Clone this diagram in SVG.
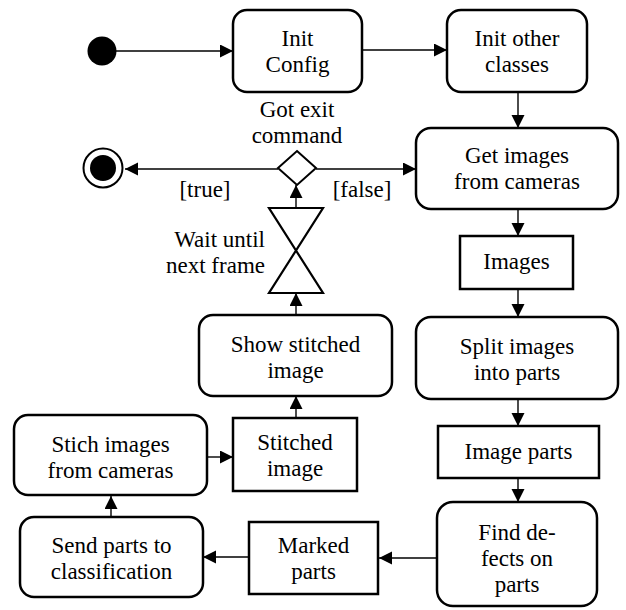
<svg xmlns="http://www.w3.org/2000/svg" width="626" height="610" viewBox="0 0 626 610">
<defs>
<marker id="arr" markerUnits="userSpaceOnUse" markerWidth="14" markerHeight="14" refX="13" refY="6.5" orient="auto">
<path d="M0,0 L13,6.5 L0,13 z" fill="#000"/>
</marker>
</defs>
<rect width="626" height="610" fill="#fff"/>
<g id="connectors" stroke="#000" stroke-width="1.4" fill="none" marker-end="url(#arr)">
<line x1="116" y1="51" x2="233" y2="51"/>
<line x1="362" y1="50" x2="447" y2="50"/>
<line x1="518" y1="92" x2="518" y2="128"/>
<line x1="518" y1="209" x2="518" y2="236"/>
<line x1="518" y1="289" x2="518" y2="317"/>
<line x1="518" y1="399" x2="518" y2="426"/>
<line x1="518" y1="478" x2="518" y2="502"/>
<line x1="437" y1="558" x2="379" y2="558"/>
<line x1="249" y1="557" x2="203" y2="557"/>
<line x1="111" y1="517" x2="111" y2="496"/>
<line x1="207" y1="457" x2="233" y2="457"/>
<line x1="296" y1="418" x2="296" y2="396"/>
<line x1="296" y1="315" x2="296" y2="293"/>
<line x1="296" y1="208" x2="296" y2="185"/>
<line x1="278" y1="169" x2="125" y2="169"/>
<line x1="316" y1="169" x2="416" y2="169"/>
</g>
<g id="start"><circle cx="102" cy="51" r="14.5" fill="#000"/></g>
<g id="initConfig" font-family="Liberation Serif" font-size="23" text-anchor="middle">
<rect x="233" y="10" width="129" height="82" rx="14" fill="#fff" stroke="#000" stroke-width="2.5"/>
<text x="297.5" y="46">Init</text>
<text x="297.5" y="72">Config</text>
</g>
<g id="initOther" font-family="Liberation Serif" font-size="23" text-anchor="middle">
<rect x="447" y="10" width="140" height="82" rx="14" fill="#fff" stroke="#000" stroke-width="2.5"/>
<text x="517" y="46">Init other</text>
<text x="517" y="72">classes</text>
</g>
<g id="getImages" font-family="Liberation Serif" font-size="23" text-anchor="middle">
<rect x="416" y="128" width="202" height="81" rx="15" fill="#fff" stroke="#000" stroke-width="2.5"/>
<text x="517" y="163">Get images</text>
<text x="517" y="189">from cameras</text>
</g>
<g id="images" font-family="Liberation Serif" font-size="23" text-anchor="middle">
<rect x="460" y="236" width="113" height="53" fill="#fff" stroke="#000" stroke-width="2.5"/>
<text x="516.5" y="269">Images</text>
</g>
<g id="split" font-family="Liberation Serif" font-size="23" text-anchor="middle">
<rect x="416" y="317" width="202" height="82" rx="15" fill="#fff" stroke="#000" stroke-width="2.5"/>
<text x="517" y="354">Split images</text>
<text x="517" y="380">into parts</text>
</g>
<g id="imageParts" font-family="Liberation Serif" font-size="23" text-anchor="middle">
<rect x="438" y="426" width="161" height="52" fill="#fff" stroke="#000" stroke-width="2.5"/>
<text x="518.5" y="459">Image parts</text>
</g>
<g id="findDefects" font-family="Liberation Serif" font-size="23" text-anchor="middle">
<rect x="437" y="502" width="160" height="104" rx="16" fill="#fff" stroke="#000" stroke-width="2.5"/>
<text x="517" y="540">Find de-</text>
<text x="517" y="566">fects on</text>
<text x="517" y="592">parts</text>
</g>
<g id="markedParts" font-family="Liberation Serif" font-size="23" text-anchor="middle">
<rect x="249" y="522" width="129" height="72" fill="#fff" stroke="#000" stroke-width="2.5"/>
<text x="313.5" y="553">Marked</text>
<text x="313.5" y="579">parts</text>
</g>
<g id="sendParts" font-family="Liberation Serif" font-size="23" text-anchor="middle">
<rect x="20" y="517" width="183" height="80" rx="14" fill="#fff" stroke="#000" stroke-width="2.5"/>
<text x="111.5" y="553">Send parts to</text>
<text x="111.5" y="579">classification</text>
</g>
<g id="stich" font-family="Liberation Serif" font-size="23" text-anchor="middle">
<rect x="14" y="415" width="193" height="80" rx="14" fill="#fff" stroke="#000" stroke-width="2.5"/>
<text x="110.5" y="452">Stich images</text>
<text x="110.5" y="478">from cameras</text>
</g>
<g id="stitchedImage" font-family="Liberation Serif" font-size="23" text-anchor="middle">
<rect x="233" y="418" width="124" height="73" fill="#fff" stroke="#000" stroke-width="2.5"/>
<text x="295" y="450">Stitched</text>
<text x="295" y="476">image</text>
</g>
<g id="showStitched" font-family="Liberation Serif" font-size="23" text-anchor="middle">
<rect x="199" y="315" width="193" height="81" rx="14" fill="#fff" stroke="#000" stroke-width="2.5"/>
<text x="295.5" y="352">Show stitched</text>
<text x="295.5" y="378">image</text>
</g>
<g id="wait" font-family="Liberation Serif" font-size="23" text-anchor="end">
<polygon points="269,208 323,208 269,293 323,293" fill="#fff" stroke="#000" stroke-width="2.2"/>
<text x="265" y="247">Wait until</text>
<text x="265" y="273">next frame</text>
</g>
<g id="decision" font-family="Liberation Serif" font-size="23" text-anchor="middle">
<polygon points="297,151 316,168 297,185 278,168" fill="#fff" stroke="#000" stroke-width="2"/>
<text x="297" y="117">Got exit</text>
<text x="297" y="143">command</text>
<text x="205" y="197">[true]</text>
<text x="362" y="197">[false]</text>
</g>
<g id="final">
<circle cx="103" cy="168" r="19.5" fill="#fff" stroke="#000" stroke-width="2"/>
<circle cx="103" cy="168" r="13" fill="#000"/>
</g>
</svg>
